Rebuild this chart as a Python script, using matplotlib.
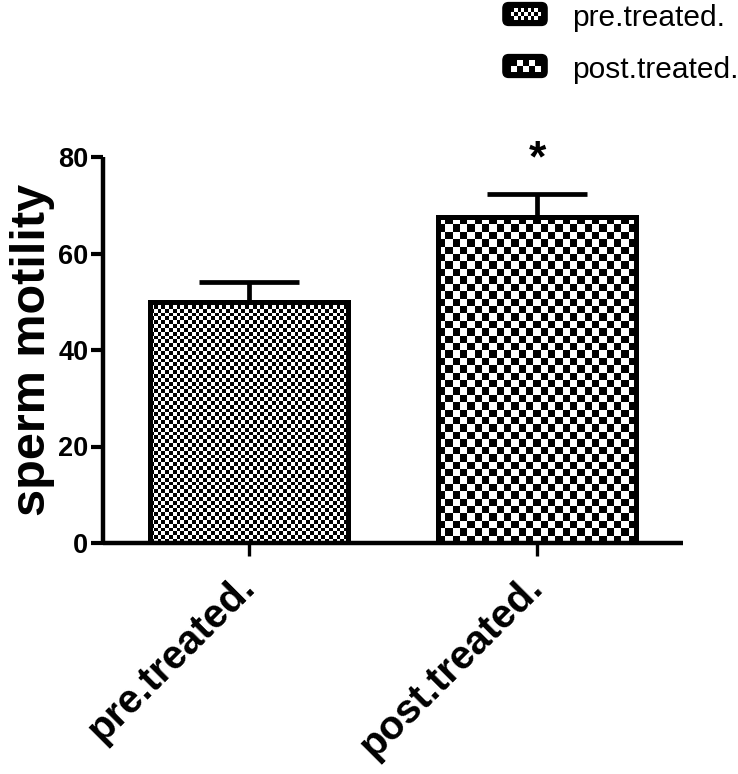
import numpy as np
import matplotlib
matplotlib.use("Agg")
import matplotlib.pyplot as plt
from matplotlib.patches import FancyBboxPatch

plt.rcParams["font.family"] = ["Liberation Sans", "DejaVu Sans"]

groups = ["pre.treated.", "post.treated."]
means = [50.0, 67.5]
sems = [4.0, 4.8]
cell_px = [3.8, 7.4]          # checker square size (pixels) for each group
star_text = "*"

W, H, DPI = 738, 774, 100
fig = plt.figure(figsize=(W / DPI, H / DPI), dpi=DPI)
ax = fig.add_axes([103 / W, 1 - 543 / H, (683 - 103) / W, (543 - 157) / H])

x = np.arange(len(groups))
bars = ax.bar(x, means, width=0.685, facecolor="none", edgecolor="black",
              linewidth=3.6, joinstyle="miter", zorder=3)
ax.set_xlim(-0.507, 1.507)
ax.set_ylim(0, 80)


def checker(nx, ny):
    return np.indices((ny, nx)).sum(axis=0) % 2


# checkerboard fill, clipped to each bar
for rect, cp in zip(bars, cell_px):
    x0, y0 = rect.get_x(), rect.get_y()
    x1, y1 = x0 + rect.get_width(), y0 + rect.get_height()
    p0 = ax.transData.transform((x0, y0))
    p1 = ax.transData.transform((x1, y1))
    nx = max(1, int(round(abs(p1[0] - p0[0]) / cp)))
    ny = max(1, int(round(abs(p1[1] - p0[1]) / cp)))
    im = ax.imshow(checker(nx, ny), cmap="gray", vmin=0, vmax=1,
                   interpolation="nearest", extent=(x0, x1, y0, y1),
                   aspect="auto", origin="lower", zorder=2)
    im.set_clip_path(rect)
ax.set_xlim(-0.507, 1.507)
ax.set_ylim(0, 80)

# upper-only error bars
eb = ax.errorbar(x, means, yerr=[np.zeros(len(sems)), sems], fmt="none",
                 ecolor="black", elinewidth=3.4, capsize=36, capthick=3.4,
                 zorder=4)
eb[1][0].set_visible(False)
for ln in list(eb[1]):
    ln.set_solid_capstyle("round")
for lc in eb[2]:
    lc.set_capstyle("butt")

ax.text(x[1], means[1] + sems[1] + 4.8, star_text, ha="center", va="baseline",
        fontsize=32, fontweight="bold", clip_on=False)

for s in ["top", "right"]:
    ax.spines[s].set_visible(False)
for s in ["left", "bottom"]:
    ax.spines[s].set_linewidth(3.2)
    ax.spines[s].set_capstyle("butt")

ax.set_yticks([0, 20, 40, 60, 80])
ax.tick_params(axis="y", length=9, width=3, pad=1.5, labelsize=19.5)
for t in ax.get_yticklabels():
    t.set_fontweight("bold")
ax.set_xticks(x)
ax.set_xticklabels(groups, rotation=45, ha="right", va="center",
                   rotation_mode="anchor", fontsize=29, fontweight="bold")
ax.tick_params(axis="x", length=9, width=2.4, pad=18)

ax.set_ylabel("sperm motility", fontsize=35, fontweight="bold", labelpad=2)

# legend (drawn by hand: checkered swatches)
leg_y = [14, 66]
for lab, cp, yc in zip(groups, [1.0, 2.0], leg_y):
    sw = fig.add_axes([501 / W, 1 - (yc + 13) / H, 48 / W, 26 / H])
    sw.set_xlim(0, 1)
    sw.set_ylim(0, 1)
    sw.axis("off")
    sw.add_patch(FancyBboxPatch((0.04, 0.06), 0.92, 0.88,
                                boxstyle="round,pad=0,rounding_size=0.12",
                                facecolor="black", edgecolor="black",
                                mutation_aspect=48 / 26))
    nx, ny = (9, 3) if cp == 1.0 else (5, 2)
    sw.imshow(checker(nx, ny), cmap="gray", vmin=0, vmax=1,
              interpolation="nearest", extent=(0.2, 0.82, 0.28, 0.72),
              aspect="auto", zorder=3)
    sw.set_xlim(0, 1)
    sw.set_ylim(0, 1)
    fig.text(572 / W, 1 - (yc + 12) / H, lab, fontsize=21.5, va="baseline",
             ha="left")

fig.savefig("out.png", dpi=DPI)
